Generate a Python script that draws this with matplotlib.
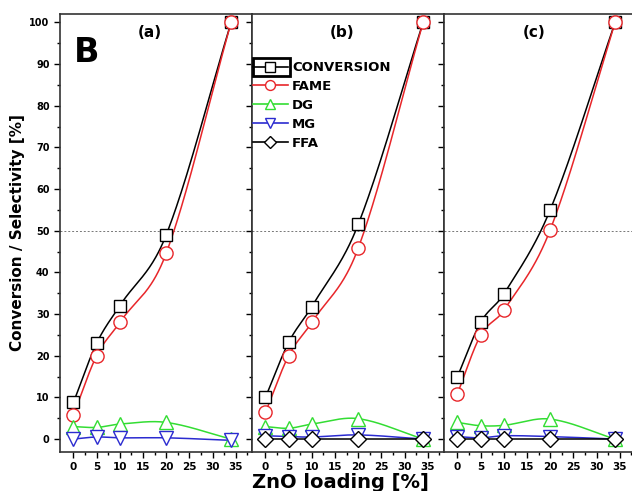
import numpy as np
import matplotlib.pyplot as plt
from matplotlib.patches import Rectangle

# ZnO loading (%) for each measured point
loading = [0, 5, 10, 20, 34]

# (a)
conv_a = [8.8, 23.0, 32.0, 49.0, 100.0]
fame_a = [5.8, 20.0, 28.0, 44.6, 100.0]
dg_a = [3.0, 2.8, 3.6, 4.0, 0.0]
mg_a = [0.0, 0.5, 0.3, 0.3, -0.3]

# (b)
conv_b = [10.0, 23.2, 31.8, 51.5, 100.0]
fame_b = [6.4, 20.0, 28.0, 45.8, 100.0]
dg_b = [3.0, 2.6, 3.6, 4.9, 0.0]
mg_b = [0.8, 0.6, 0.5, 1.0, 0.0]
ffa_b = [0.0, 0.0, 0.0, 0.0, 0.0]

# (c)
conv_c = [15.0, 28.0, 34.8, 55.0, 100.0]
fame_c = [10.9, 24.9, 30.9, 50.2, 100.0]
dg_c = [4.0, 3.2, 3.3, 4.8, 0.0]
mg_c = [0.6, 0.3, 0.8, 0.6, 0.0]
ffa_c = [0.0, 0.0, 0.0, 0.0, 0.0]

panel_titles = ['(a)', '(b)', '(c)']
series_names = ['CONVERSION', 'FAME', 'DG', 'MG', 'FFA']


def smooth_curve(x, y, n=200):
    # cardinal (Catmull-Rom style) cubic Hermite curve through the points
    x = np.asarray(x, float)
    y = np.asarray(y, float)
    k = len(x)
    h = np.diff(x)
    m = np.zeros(k)
    m[1:-1] = (y[2:] - y[:-2]) / (x[2:] - x[:-2])
    m[0] = (y[1] - y[0]) / h[0]
    m[-1] = (y[-1] - y[-2]) / h[-1]
    xs = np.linspace(x[0], x[-1], n)
    idx = np.clip(np.searchsorted(x, xs) - 1, 0, k - 2)
    hh = h[idx]
    t = (xs - x[idx]) / hh
    h00 = 2 * t ** 3 - 3 * t ** 2 + 1
    h10 = t ** 3 - 2 * t ** 2 + t
    h01 = -2 * t ** 3 + 3 * t ** 2
    h11 = t ** 3 - t ** 2
    ys = h00 * y[idx] + h10 * hh * m[idx] + h01 * y[idx + 1] + h11 * hh * m[idx + 1]
    return xs, ys


styles = {
    'CONVERSION': dict(color='black', marker='s', ms=9),
    'FAME': dict(color='#e8262a', marker='o', ms=9.5),
    'DG': dict(color='#33dd33', marker='^', ms=10),
    'MG': dict(color='#2b2bd0', marker='v', ms=10),
    'FFA': dict(color='black', marker='D', ms=8.5),
}

panels = [
    {'CONVERSION': conv_a, 'FAME': fame_a, 'DG': dg_a, 'MG': mg_a},
    {'CONVERSION': conv_b, 'FAME': fame_b, 'DG': dg_b, 'MG': mg_b, 'FFA': ffa_b},
    {'CONVERSION': conv_c, 'FAME': fame_c, 'DG': dg_c, 'MG': mg_c, 'FFA': ffa_c},
]

fig = plt.figure(figsize=(6.32, 4.91), dpi=100)
W, H = 632.0, 491.0
left, bottom, top, pw = 60, 452, 14, 192

axs = []
for i, (data, title) in enumerate(zip(panels, panel_titles)):
    ax = fig.add_axes([(left + i * pw) / W, 1 - bottom / H, pw / W, (bottom - top) / H])
    axs.append(ax)
    ax.axhline(50, color='#777777', lw=0.7, ls=(0, (2, 2)), zorder=1)
    for name in series_names:
        if name not in data:
            continue
        st = styles[name]
        xs, ys = smooth_curve(loading, data[name])
        ax.plot(xs, ys, color=st['color'], lw=1.1, zorder=2)
        ax.plot(loading, data[name], ls='none', marker=st['marker'], ms=st['ms'],
                mfc='white', mec=st['color'], mew=1.0, zorder=3)
    ax.set_xlim(-2.9, 38.5)
    ax.set_ylim(-3.1, 102)
    ax.set_xticks(np.arange(0, 36, 5))
    ax.set_xticks(np.arange(0, 38, 2.5), minor=True)
    ax.set_yticks(np.arange(0, 101, 10))
    ax.set_yticks(np.arange(0, 101, 5), minor=True)
    ax.tick_params(which='both', direction='out', top=False, right=False)
    ax.tick_params(which='major', length=4, width=1)
    ax.tick_params(which='minor', length=2.5, width=1)
    for lab in ax.get_xticklabels():
        lab.set_fontweight('bold')
        lab.set_fontsize(7.5)
    for lab in ax.get_yticklabels():
        lab.set_fontweight('bold')
        lab.set_fontsize(7)
    if i > 0:
        ax.set_yticklabels([])
    for sp in ax.spines.values():
        sp.set_color('#333333')
        sp.set_linewidth(1.2)
    ax.text(0.47, 0.975, title, transform=ax.transAxes, ha='center', va='top',
            fontsize=11, fontweight='bold')

axs[0].text(0.07, 0.95, 'B', transform=axs[0].transAxes, ha='left', va='top',
            fontsize=24, fontweight='bold')

# legend in the middle panel
handles = []
for name in series_names:
    st = styles[name]
    h, = axs[1].plot([], [], color=st['color'], lw=1.2, marker=st['marker'],
                     ms=st['ms'] * 0.75, mfc='white', mec=st['color'])
    handles.append(h)
leg = axs[1].legend(handles, series_names, loc='upper left',
                    bbox_to_anchor=(0.0, 0.895), frameon=False, borderaxespad=0,
                    borderpad=0.1, handlelength=2.6, handletextpad=0.35,
                    labelspacing=0.44, prop={'weight': 'bold', 'size': 9.5})
fig.patches.append(Rectangle((253 / W, 1 - 76 / H), 37 / W, 18 / H,
                             transform=fig.transFigure, fill=False,
                             lw=2, ec='black'))

fig.text(18 / W, 1 - 233 / H, 'Conversion / Selectivity [%]', rotation=90,
         ha='center', va='center', fontsize=11, fontweight='bold')
fig.text(340 / W, 1 - 482 / H, 'ZnO loading [%]', ha='center', va='center',
         fontsize=14, fontweight='bold')

fig.savefig('out.png', dpi=100)
